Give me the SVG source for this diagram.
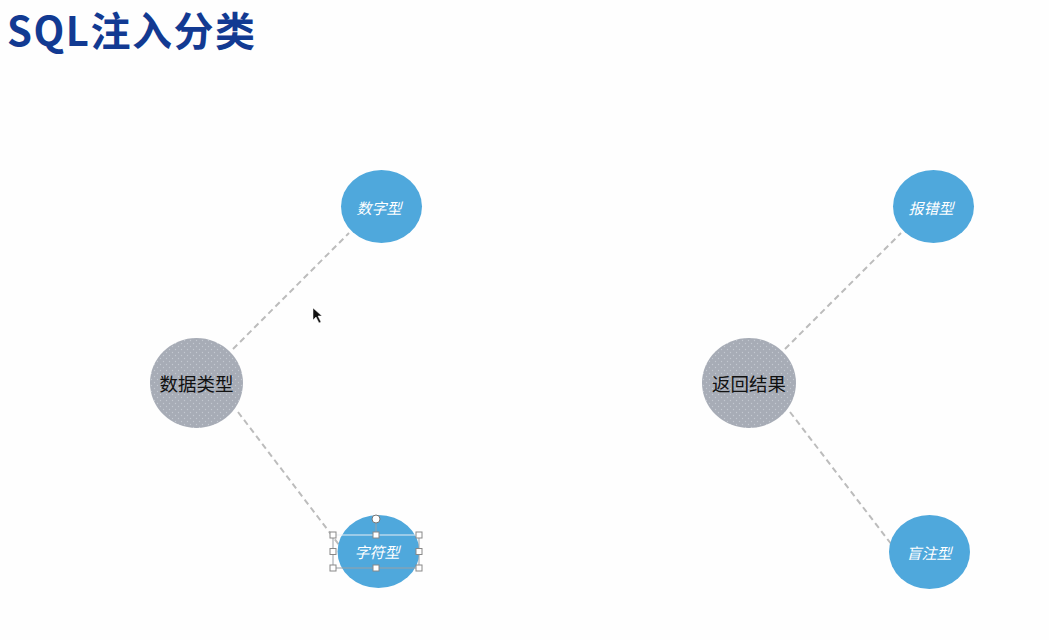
<svg xmlns="http://www.w3.org/2000/svg" width="1049" height="640" viewBox="0 0 1049 640">
<defs>
<pattern id="dots" width="6" height="6" patternUnits="userSpaceOnUse">
<rect width="6" height="6" fill="#a7acb6"/>
<circle cx="1.5" cy="1.5" r="0.7" fill="#c3c8d0"/>
<circle cx="4.5" cy="4.5" r="0.7" fill="#c3c8d0"/>
</pattern>
</defs>
<style>
.title{font-family:"Noto Sans CJK SC","Liberation Sans",sans-serif;font-weight:bold;font-size:40px;letter-spacing:1.5px;fill:#123a92}
.hub{fill:url(#dots)}
.leaf{fill:#4fa8dc}
.hubt{font-family:"Noto Sans CJK SC",sans-serif;font-size:18.5px;fill:#111;text-anchor:middle;dominant-baseline:central}
.leaft{font-family:"Noto Sans CJK SC",sans-serif;font-size:15px;font-style:italic;fill:#fff;text-anchor:middle;dominant-baseline:central}
.conn{stroke:#bcbcbc;stroke-width:2;stroke-dasharray:6 4;fill:none}
.h{fill:#fff;stroke:#888;stroke-width:1}
</style>
<rect width="1049" height="640" fill="#fefefe"/>
<text class="title" x="7" y="46">SQL注入分类</text>
<g id="connectors">
<line class="conn" x1="233" y1="349" x2="349" y2="233"/>
<line class="conn" x1="238" y1="412" x2="343" y2="550"/>
<line class="conn" x1="785" y1="349" x2="901" y2="233"/>
<line class="conn" x1="790" y1="412" x2="895" y2="549"/>
</g>
<g id="n-shuju"><ellipse class="hub" cx="196.5" cy="383" rx="46.5" ry="45"/><text class="hubt" x="196.5" y="383">数据类型</text></g>
<g id="n-shuzi"><ellipse class="leaf" cx="381.5" cy="206.5" rx="40.5" ry="36.5"/><text class="leaft" x="379" y="207">数字型</text></g>
<g id="n-zifu"><ellipse class="leaf" cx="378.5" cy="551.5" rx="41" ry="36.5"/><text class="leaft" x="377" y="551">字符型</text></g>
<g id="n-fanhui"><ellipse class="hub" cx="749" cy="383" rx="47" ry="45"/><text class="hubt" x="749" y="383">返回结果</text></g>
<g id="n-baocuo"><ellipse class="leaf" cx="933.5" cy="206.5" rx="40.5" ry="36.5"/><text class="leaft" x="931" y="207">报错型</text></g>
<g id="n-mangzhu"><ellipse class="leaf" cx="929.5" cy="552" rx="40.5" ry="37"/><text class="leaft" x="929" y="552">盲注型</text></g>
<g id="selection">
<line x1="333" y1="535" x2="419" y2="535" stroke="#e8eef4" stroke-width="1"/>
<line x1="333" y1="568" x2="419" y2="568" stroke="#9aa0a6" stroke-width="1"/>
<line x1="333" y1="535" x2="333" y2="568" stroke="#9aa0a6" stroke-width="1"/>
<line x1="419" y1="535" x2="419" y2="568" stroke="#9aa0a6" stroke-width="1"/>
<line x1="376" y1="523" x2="376" y2="535" stroke="#9aa0a6" stroke-width="1"/>
<circle cx="376" cy="519" r="4" fill="#fff" stroke="#777" stroke-width="1"/>
<rect class="h" x="330" y="532" width="6" height="6"/>
<rect class="h" x="373" y="532" width="6" height="6"/>
<rect class="h" x="416" y="532" width="6" height="6"/>
<rect class="h" x="330" y="548.5" width="6" height="6"/>
<rect class="h" x="416" y="548.5" width="6" height="6"/>
<rect class="h" x="330" y="565" width="6" height="6"/>
<rect class="h" x="373" y="565" width="6" height="6"/>
<rect class="h" x="416" y="565" width="6" height="6"/>
</g>
<polygon points="313,308 313,320 316,317 319,323 321,322 318,316 322,316" fill="#111" stroke="#fff" stroke-width="0.5"/>
</svg>
